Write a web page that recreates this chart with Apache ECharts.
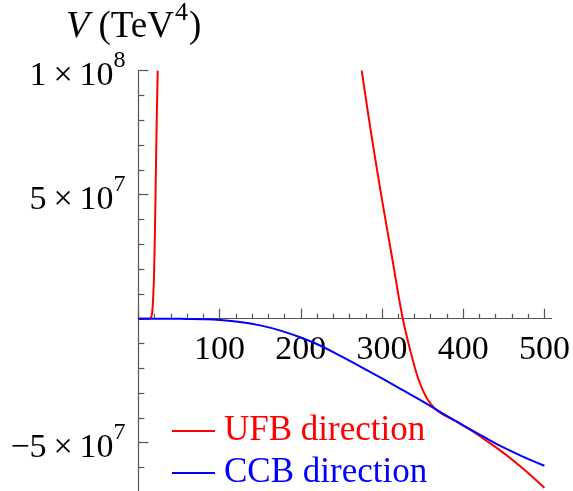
<!DOCTYPE html>
<html>
<head>
<meta charset="utf-8">
<script src="https://cdn.jsdelivr.net/npm/echarts@6/dist/echarts.min.js"></script>
<style>html,body{margin:0;padding:0;background:#fff}#c{width:573px;height:491px}</style>
</head>
<body>
<div id="c"></div>
<script>
// ---- data (V in TeV^4) ----
const ufbLeftX  = [0, 10, 14, 15.5, 16.5, 17.5, 18.3, 19.2, 20.4, 21.7, 22.8, 23.8];
const ufbLeftY  = [0, 0, 0.01e7, 0.05e7, 0.15e7, 0.45e7, 0.95e7, 1.7e7, 3.6e7, 6.3e7, 8.4e7, 10e7];
const ufbRightX = [275, 287, 300, 312, 325, 335, 345, 355, 365, 375, 390, 400, 410, 425, 450, 475, 500];
const ufbRightY = [10e7, 7.4e7, 4.8e7, 2.55e7, 0.1e7, -1.3e7, -2.45e7, -3.2e7, -3.62e7, -3.86e7, -4.12e7, -4.31e7, -4.5e7, -4.84e7, -5.42e7, -6.08e7, -6.82e7];
const ccbX = [0, 40, 60, 80, 100, 125, 150, 175, 200, 225, 250, 275, 300, 325, 350, 375, 400, 425, 450, 475, 500];
const ccbY = [0, 0, -0.01e7, -0.02e7, -0.05e7, -0.13e7, -0.27e7, -0.48e7, -0.76e7, -1.1e7, -1.52e7, -1.96e7, -2.41e7, -2.87e7, -3.33e7, -3.83e7, -4.3e7, -4.76e7, -5.2e7, -5.58e7, -5.93e7];
const xTickLabels = [100, 200, 300, 400, 500];
const yTickLabels = { '100000000': ['1', '8'], '50000000': ['5', '7'], '-50000000': ['\u22125', '7'] };
const seriesNames = ['UFB direction', 'CCB direction'];

const pairs = (xs, ys) => xs.map((x, i) => [x, ys[i]]);
const FONT = 'Liberation Serif';

const chart = echarts.init(document.getElementById('c'), null, { renderer: 'canvas' });

const gridLeft = 138.4, gridTop = 70.7;
const pxPerX = 0.812, pxPerY = 24.8 / 1e7;
const AX = '#555';

chart.setOption({
  backgroundColor: '#fff',
  animation: false,
  title: {
    text: '{i|V}{b| (TeV}{s|4}{b|)}',
    left: 66, top: 4, padding: 0,
    textStyle: {
      fontFamily: FONT, fontSize: 37, color: '#000', fontWeight: 'normal',
      rich: {
        i: { fontFamily: FONT, fontSize: 38, fontStyle: 'italic', color: '#000', lineHeight: 38, padding: [8, 0, 0, 0] },
        b: { fontFamily: FONT, fontSize: 37, color: '#000', lineHeight: 37, padding: [9, 0, 0, 0] },
        s: { fontFamily: FONT, fontSize: 26, color: '#000', lineHeight: 26, padding: [0, 1, 20, 1] }
      }
    }
  },
  legend: {
    orient: 'vertical',
    left: 172, top: 413, padding: 0,
    icon: 'rect',
    itemWidth: 43, itemHeight: 2, itemGap: 6,
    data: [
      { name: seriesNames[0], textStyle: { color: '#ff0000' } },
      { name: seriesNames[1], textStyle: { color: '#0000ff' } }
    ],
    textStyle: { fontFamily: FONT, fontSize: 35, lineHeight: 36, padding: [0, 0, 0, 4] }
  },
  grid: [
    { left: gridLeft, top: gridTop, width: 509 * pxPerX, height: 2e8 * pxPerY, outerBoundsMode: 'none', containLabel: false },
    { left: gridLeft, top: gridTop, width: 500 * pxPerX, height: 1e8 * pxPerY, outerBoundsMode: 'none', containLabel: false }
  ],
  xAxis: [
    {
      gridIndex: 0, type: 'value', min: 0, max: 509,
      axisLine: { show: true, onZero: true, lineStyle: { color: AX, width: 1.2 } },
      axisTick: { show: false }, axisLabel: { show: false }, splitLine: { show: false }
    },
    {
      gridIndex: 1, type: 'value', min: 0, max: 500, interval: 100, position: 'bottom',
      axisLine: { show: false, onZero: false },
      axisTick: { show: true, inside: true, length: 10, lineStyle: { color: AX, width: 1.2 } },
      minorTick: { show: true, splitNumber: 5, length: 5, lineStyle: { color: AX, width: 1.2 } },
      axisLabel: {
        show: true, margin: 14, fontFamily: FONT, fontSize: 34, color: '#000',
        showMinLabel: true, showMaxLabel: true, hideOverlap: false,
        formatter: v => (xTickLabels.indexOf(v) >= 0 ? String(v) : '')
      },
      splitLine: { show: false }
    }
  ],
  yAxis: [
    {
      gridIndex: 0, type: 'value', min: -1e8, max: 1e8, interval: 5e7,
      axisLine: { show: true, onZero: true, lineStyle: { color: AX, width: 1.2 } },
      axisTick: { show: true, inside: true, length: 10, lineStyle: { color: AX, width: 1.2 } },
      minorTick: { show: true, splitNumber: 5, length: 6, lineStyle: { color: AX, width: 1.2 } },
      axisLabel: {
        show: true, margin: 13, color: '#000',
        formatter: v => {
          const t = yTickLabels[String(v)];
          return t ? '{b|' + t[0] + '\u2009\u00d7\u200910}{s|' + t[1] + '}' : '';
        },
        rich: {
          b: { fontFamily: FONT, fontSize: 34, color: '#000', lineHeight: 34, padding: [10, 0, 0, 0] },
          s: { fontFamily: FONT, fontSize: 24, color: '#000', lineHeight: 24, padding: [0, 0, 20, 0] }
        }
      },
      splitLine: { show: false }
    },
    { gridIndex: 1, type: 'value', min: 0, max: 1e8, show: false }
  ],
  series: [
    {
      name: seriesNames[0], type: 'line', xAxisIndex: 0, yAxisIndex: 0,
      data: pairs(ufbLeftX, ufbLeftY), symbol: 'none', smooth: 0.4,
      lineStyle: { color: '#ff0000', width: 2 }, itemStyle: { color: '#ff0000' }
    },
    {
      name: seriesNames[0], type: 'line', xAxisIndex: 0, yAxisIndex: 0,
      data: pairs(ufbRightX, ufbRightY), symbol: 'none', smooth: 0.4,
      lineStyle: { color: '#ff0000', width: 2 }, itemStyle: { color: '#ff0000' }
    },
    {
      name: seriesNames[1], type: 'line', xAxisIndex: 0, yAxisIndex: 0,
      data: pairs(ccbX, ccbY), symbol: 'none', smooth: 0.4,
      lineStyle: { color: '#0000ff', width: 2 }, itemStyle: { color: '#0000ff' }
    }
  ]
});
</script>
</body>
</html>
